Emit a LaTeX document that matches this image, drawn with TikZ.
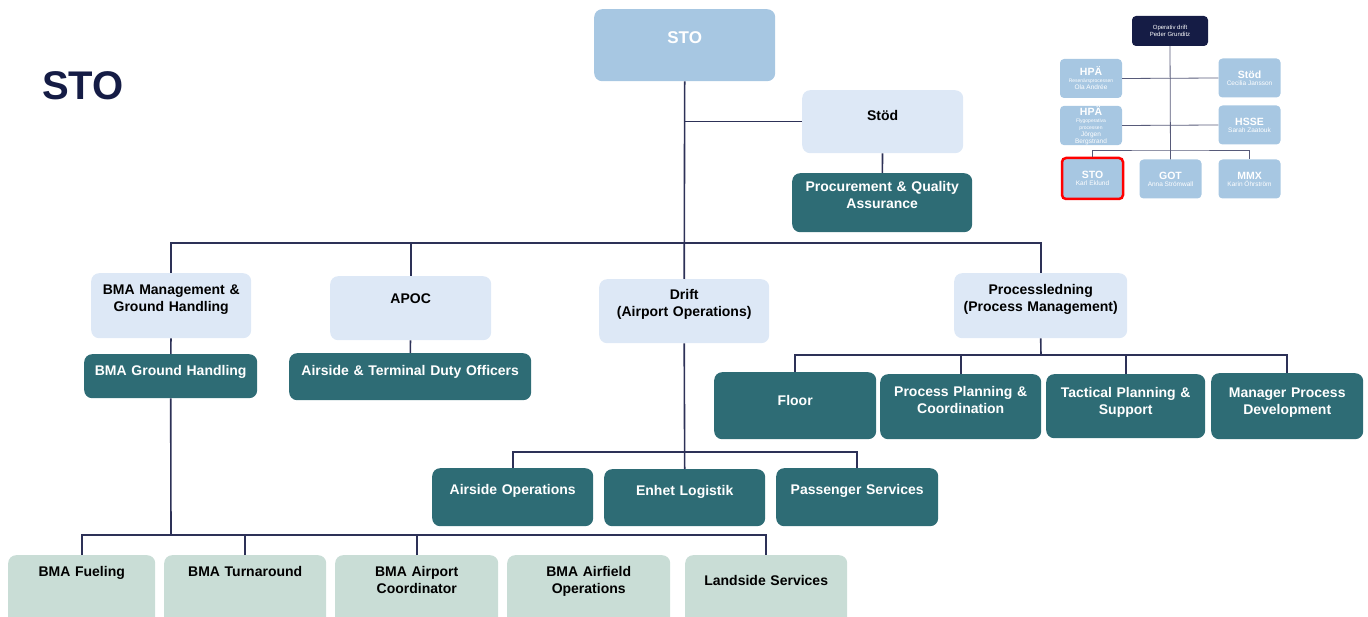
\documentclass[tikz,border=0pt]{standalone}
\usepackage{fontspec}
\setmainfont{Liberation Sans}
\definecolor{stoblue}{HTML}{A7C7E2}
\definecolor{paleblue}{HTML}{DDE8F6}
\definecolor{tealbox}{HTML}{2E6C75}
\definecolor{palegreen}{HTML}{C9DDD6}
\definecolor{navy}{HTML}{151C45}
\definecolor{linkcol}{HTML}{2D3157}

\begin{document}
\begin{tikzpicture}[x=1pt,y=-1pt,link/.style={draw=linkcol,line width=1.6pt}]
        \tikzstyle{unit}=[rounded corners=8pt,inner sep=0pt,align=center,anchor=north west,font=\fontsize{14}{17}\selectfont\bfseries]
        \tikzstyle{pale}=[unit,fill=paleblue,text=black]
        \tikzstyle{team}=[unit,fill=tealbox,text=white]
        \tikzstyle{group}=[unit,fill=palegreen,text=black,text height=21pt,text depth=64pt]
        \tikzstyle{mini}=[rounded corners=4pt,fill=stoblue,text=white,align=center,inner sep=0.5pt,minimum width=62pt,minimum height=39pt,font=\fontsize{6.5}{7}\selectfont]

        \useasboundingbox (0,0) rectangle (1368,617);

        \node[text=navy,font=\fontsize{40}{40}\selectfont\bfseries] (title) at (83,86) {STO};

        \node[unit,fill=stoblue,text=white,text width=181pt,text height=34pt,text depth=38pt,font=\fontsize{17}{20}\selectfont\bfseries] (sto) at (594,9) {STO};
        \node[pale,text width=161pt,text height=30pt,text depth=33pt] (stod) at (802,90) {Stöd};
        \node[team,text width=180pt,text height=18pt,text depth=41pt] (pqa) at (792,173) {Procurement \& Quality\\Assurance};

        \node[pale,text width=160pt,text height=21pt,text depth=44pt] (bmamgmt) at (91,273) {BMA Management \&\\Ground Handling};
        \node[team,text width=173pt,text height=21pt,text depth=23pt] (bmagh) at (84,354) {BMA Ground Handling};
        \node[pale,text width=161pt,text height=27pt,text depth=37pt] (apoc) at (330,276) {APOC};
        \node[team,text width=242pt,text height=22pt,text depth=25pt] (atdo) at (289,353) {Airside \& Terminal Duty Officers};
        \node[pale,text width=170pt,text height=20pt,text depth=44pt] (drift) at (599,279) {Drift\\(Airport Operations)};
        \node[pale,text width=173pt,text height=21pt,text depth=44pt] (procled) at (954,273) {Processledning\\(Process Management)};

        \node[team,text width=161pt,text height=26pt,text depth=32pt] (airops) at (432,468) {Airside Operations};
        \node[team,text width=161pt,text height=26pt,text depth=31pt] (logistik) at (604,469) {Enhet Logistik};
        \node[team,text width=162pt,text height=26pt,text depth=32pt] (pax) at (776,468) {Passenger Services};

        \node[team,text width=162pt,text height=33pt,text depth=34pt] (floor) at (714,372) {Floor};
        \node[team,text width=161pt,text height=22pt,text depth=43pt] (ppc) at (880,374) {Process Planning \&\\Coordination};
        \node[team,text width=159pt,text height=23pt,text depth=41pt] (tps) at (1046,374) {Tactical Planning \&\\Support};
        \node[team,text width=152pt,text height=24pt,text depth=42pt] (mpd) at (1211,373) {Manager Process\\Development};

        \node[group,text width=147pt] (fueling) at (8,555) {BMA Fueling};
        \node[group,text width=162pt] (turnaround) at (164,555) {BMA Turnaround};
        \node[group,text width=163pt] (apcoord) at (335,555) {BMA Airport\\Coordinator};
        \node[group,text width=163pt] (airfield) at (507,555) {BMA Airfield\\Operations};
        \node[group,text width=162pt,text height=30pt,text depth=55pt] (landside) at (685,555) {Landside Services};

        \coordinate (stobus) at (684,243);
        \coordinate (driftbus) at (684,452);
        \coordinate (procbus) at (1041,355);
        \coordinate (ghbus) at (171,535);

        \draw[link] (sto.south) -- (drift.north);
        \draw[link] (stod.west) -- (stod.west -| sto.south);
        \draw[link] (stod) -- (pqa);
        \draw[link] (bmamgmt.north) |- (stobus) -| (procled.north);
        \draw[link] (apoc.north) |- (stobus);
        \draw[link] (bmamgmt) -- (bmagh);
        \draw[link] (apoc) -- (atdo);

        \draw[link] (drift.south) -- (logistik.north);
        \draw[link] (airops.north) |- (driftbus) -| (pax.north);

        \draw[link] (procled.south) -- (procbus);
        \draw[link] (floor.north) |- (procbus) -| (mpd.north);
        \draw[link] (ppc.north) |- (procbus);
        \draw[link] (tps.north) |- (procbus);

        \draw[link] (bmagh.south) -- (ghbus);
        \draw[link] (fueling.north) |- (ghbus) -| (landside.north);
        \draw[link] (turnaround.north) |- (ghbus);
        \draw[link] (apcoord.north) |- (ghbus);

        \node[mini,fill=navy,minimum width=76pt,minimum height=30pt,font=\fontsize{6}{7}\selectfont] (opdrift) at (1170,31) {Operativ drift\\Peder Grunditz};
        \node[mini] (hpa1) at (1091,78.5) {{\fontsize{10.5}{10.5}\selectfont\bfseries HPÄ}\\{\fontsize{5}{5.5}\selectfont Resenärsprocessen}\\Ola Andrée};
        \node[mini] (stodmini) at (1249.5,78) {{\fontsize{10.5}{10.5}\selectfont\bfseries Stöd}\\Cecilia Jansson};
        \node[mini] (hpa2) at (1091,125.5) {{\fontsize{10.5}{10.5}\selectfont\bfseries HPÄ}\\{\fontsize{5}{5.5}\selectfont Flygoperativa}\\{\fontsize{5}{5.5}\selectfont processen}\\Jörgen\\Bergstrand};
        \node[mini] (hsse) at (1249.5,125) {{\fontsize{10.5}{10.5}\selectfont\bfseries HSSE}\\Sarah Zaatouk};
        \node[mini,draw=red,line width=2.5pt,minimum width=61pt,minimum height=41pt] (stomini) at (1092.5,178.5) {{\fontsize{10.5}{10.5}\selectfont\bfseries STO}\\Karl Eklund};
        \node[mini] (got) at (1170.5,179) {{\fontsize{10.5}{10.5}\selectfont\bfseries GOT}\\Anna Strömwall};
        \node[mini] (mmx) at (1249.5,179) {{\fontsize{10.5}{10.5}\selectfont\bfseries MMX}\\Karin Öhrström};

        \coordinate (minibus) at (1170,150);
        \draw[linkcol!80,line width=0.8pt] (opdrift.south) -- (got.north);
        \draw[linkcol!80,line width=0.8pt] (hpa1.east) -- (stodmini.west);
        \draw[linkcol!80,line width=0.8pt] (hpa2.east) -- (hsse.west);
        \draw[linkcol!80,line width=0.8pt] (stomini.north) |- (minibus) -| (mmx.north);
\end{tikzpicture}
\end{document}
